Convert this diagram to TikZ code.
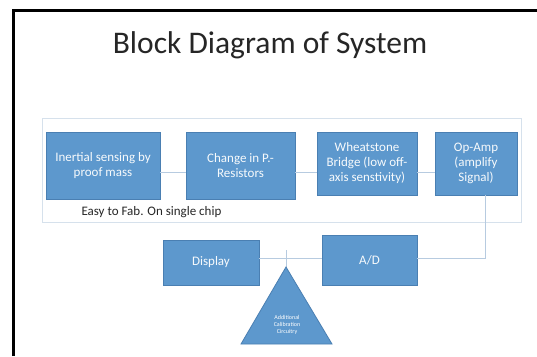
\documentclass[tikz,border=0pt]{standalone}
\usepackage{fontspec}
\setmainfont{Carlito}
\definecolor{boxfill}{HTML}{5D98CD}
\definecolor{boxline}{HTML}{4A7FB2}
\definecolor{wire}{HTML}{B7CBE0}
\definecolor{panel}{HTML}{D6E1EC}
\begin{document}
\begin{tikzpicture}[x=1pt,y=-1pt,
  blk/.style={draw=boxline,line width=0.8pt,fill=boxfill,text=white!95!boxfill,align=center,
    font=\fontsize{13}{15}\selectfont,inner sep=0pt},
  wireline/.style={draw=wire,line width=1pt}]
\useasboundingbox (0,0) rectangle (537,356);
\fill[white] (0,0) rectangle (537,356);
% slide frame
\draw[line width=3pt] (13,356) -- (13,10) -- (537,10);
% title
\node[font=\fontsize{31.5}{34}\selectfont,text=black!85] (title) at (270,45) {Block Diagram of System};
% panel
\draw[draw=panel,line width=1pt,fill=white] (42,118) rectangle (521,222);
% blocks
\node[blk,minimum width=114,minimum height=67] (b1) at (103,165.5) {Inertial sensing by\\proof mass};
\node[blk,minimum width=109,minimum height=67] (b2) at (240.5,165.5) {Change in P.-\\Resistors};
\node[blk,minimum width=100,minimum height=63] (b3) at (367,163.5) {Wheatstone\\Bridge (low off-\\axis senstivity)};
\node[blk,minimum width=82,minimum height=63] (b4) at (476,163.5) {Op-Amp\\(amplify\\Signal)};
\node[anchor=west,font=\fontsize{13}{14}\selectfont,text=black!85] (fab) at (78,212) {Easy to Fab. On single chip};
\node[blk,minimum width=96,minimum height=45] (disp) at (211,262.5) {Display};
\node[blk,minimum width=95,minimum height=50] (ad) at (369.5,260) {A/D};
% connectors
\draw[wireline] (b1.east |- 0,172) -- (b2.west |- 0,172);
\draw[wireline] (b2.east |- 0,172) -- (b3.west |- 0,172);
\draw[wireline] (b3.east |- 0,172) -- (b4.west |- 0,172);
\coordinate (turn) at (485,258);
\draw[wireline] (b4.south -| turn) -- (turn) -- (ad.east |- turn);
\draw[wireline] (disp.east |- turn) -- (ad.west |- turn);
% triangle
\coordinate (apex) at (286,267);
\coordinate (bl) at (241,344);
\coordinate (br) at (332,344);
\coordinate (tip) at (286,250);
\draw[wireline] (apex) -- (tip);
\draw[draw=boxline,line width=0.8pt,fill=boxfill] (apex) -- (br) -- (bl) -- cycle;
\node[align=center,text=white,font=\fontsize{6}{7}\selectfont,inner sep=0pt] (cal) at (287,325) {Additional\\Calibration\\Circuitry};
\end{tikzpicture}
\end{document}
